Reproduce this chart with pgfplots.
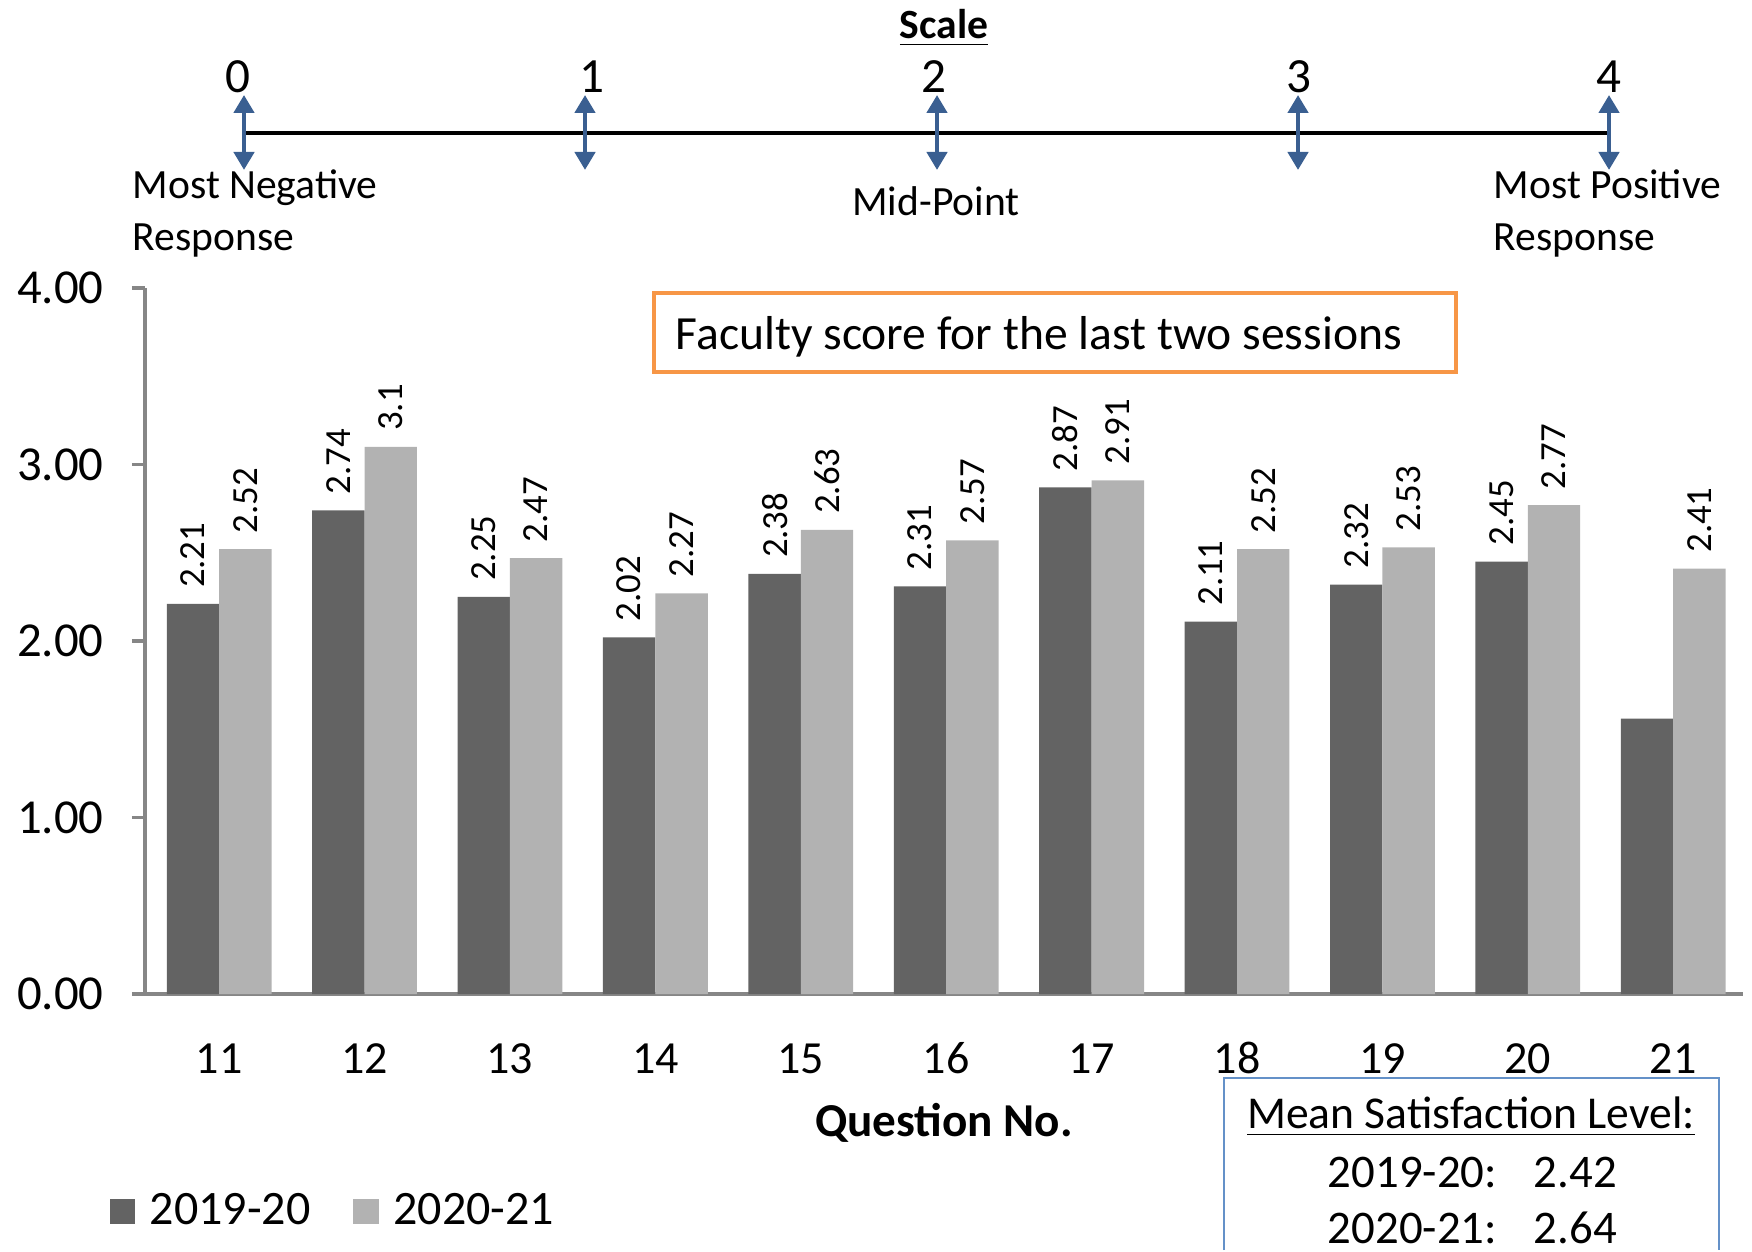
\documentclass[border=0pt]{standalone}
\usepackage{pgfplots}
\pgfplotsset{compat=1.18}
\usepackage{fontspec}
\setmainfont{Carlito}
\usetikzlibrary{arrows.meta}
\definecolor{darkbar}{RGB}{99,99,99}
\definecolor{lightbar}{RGB}{178,178,178}
\definecolor{axisgray}{RGB}{134,134,134}
\definecolor{arrowblue}{RGB}{58,95,145}
\definecolor{boxorange}{RGB}{247,150,70}
\definecolor{boxblue}{RGB}{100,145,200}
\newcommand{\fs}[1]{\fontsize{#1}{#1}\selectfont}
\begin{document}
\begin{tikzpicture}
\begin{scope}[x=0.25pt,y=0.25pt]
\useasboundingbox (0,0) rectangle (1752,1248);
% ---- scale at top ----
\node[inner sep=0pt,font=\bfseries\fs{10.4}] at (944,1220) {\underline{Scale}};
\draw[line width=1.1pt,black] (244,1115) -- (1609,1115);
\foreach \xx/\lab/\lx in {244/0/238,585/1/592,937/2/934,1298/3/1299,1609/4/1609}{
  \draw[arrowblue,line width=1.1pt,{Triangle[length=4.5pt,width=5pt]}-{Triangle[length=4.5pt,width=5pt]}] (\xx,1153) -- (\xx,1078);
  \node[inner sep=0pt,anchor=base,font=\fs{12.3}] at (\lx,1155) {\lab};
}
\node[inner sep=0pt,anchor=base west,font=\fs{10.4}] at (132,1049) {Most Negative};
\node[inner sep=0pt,anchor=base west,font=\fs{10.4}] at (132,997) {Response};
\node[inner sep=0pt,anchor=base,font=\fs{10.4}] at (936,1032) {Mid-Point};
\node[inner sep=0pt,anchor=base west,font=\fs{10.4}] at (1493,1049) {Most Positive};
\node[inner sep=0pt,anchor=base west,font=\fs{10.4}] at (1493,997) {Response};
\end{scope}
% ---- chart ----
\begin{axis}[
  at={(36.25pt,63.5pt)}, anchor=south west,
  scale only axis, width=399.5pt, height=176.5pt,
  xmin=10.49, xmax=21.48, ymin=0, ymax=4,
  separate axis lines,
  axis x line*=bottom, axis y line*=left,
  axis line style={draw=axisgray,line width=0.85pt,-},
  every outer x axis line/.append style={-},
  every outer y axis line/.append style={-},
  every inner x axis line/.append style={-},
  every inner y axis line/.append style={-},
  xtick={11,12,13,14,15,16,17,18,19,20,21},
  xtick style={draw=none},
  xticklabel style={font=\fs{11.5},anchor=base,yshift=-16.65pt},
  ytick={0,1,2,3,4},
  tick align=outside,
  major tick length=3.3pt,
  ytick style={draw=axisgray,line width=0.85pt},
  yticklabel style={font=\fs{12.2},xshift=-3.5pt,/pgf/number format/.cd,fixed,fixed zerofill,precision=2},
  /pgf/number format/assume math mode=true,
  xlabel={Question No.},
  xlabel style={font=\bfseries\fs{11.8},at={(axis description cs:0.5,0)},anchor=center,yshift=-32.25pt},
  ybar=0pt,
  bar width=13.1pt,
  visualization depends on={rawy \as \rawy},
  nodes near coords={\ifdim\rawy pt>1.6pt\relax\pgfmathprintnumber{\rawy}\fi},
  every node near coord/.append style={rotate=90,anchor=west,font=\fs{9.2},inner sep=0pt,outer sep=4pt},
  legend style={at={(-0.0225,-0.308)},anchor=west,draw=none,fill=none,inner sep=0pt,
    legend columns=2,font=\fs{12},nodes={inner sep=0pt},
    /tikz/every odd column/.append style={column sep=3.75pt},
    /tikz/every even column/.append style={column sep=10.75pt}},
  legend image code/.code={\fill[#1] (0pt,-3.1pt) rectangle (6.25pt,3.1pt);},
]
\addplot[fill=darkbar,draw=none] coordinates {
  (11,2.21) (12,2.74) (13,2.25) (14,2.02) (15,2.38) (16,2.31) (17,2.87) (18,2.11) (19,2.32) (20,2.45) (21,1.56)};
\addlegendentry{2019-20}
\addplot[fill=lightbar,draw=none] coordinates {
  (11,2.52) (12,3.1) (13,2.47) (14,2.27) (15,2.63) (16,2.57) (17,2.91) (18,2.52) (19,2.53) (20,2.77) (21,2.41)};
\addlegendentry{2020-21}
\end{axis}
% ---- annotation boxes ----
\begin{scope}[x=0.25pt,y=0.25pt]
\draw[boxorange,line width=0.85pt] (654,876) rectangle (1456,955);
\node[inner sep=0pt,anchor=west,font=\fs{11.9}] at (675,911) {Faculty score for the last two sessions};
\draw[boxblue,line width=0.6pt] (1224,-2) -- (1224,170) -- (1719,170) -- (1719,-2);
\node[inner sep=0pt,font=\fs{11.4}] at (1471,131) {\underline{Mean Satisfaction Level:}};
\node[inner sep=0pt,anchor=west,font=\fs{11.7}] at (1327,76) {2019-20:};
\node[inner sep=0pt,anchor=west,font=\fs{11.7}] at (1533,76) {2.42};
\node[inner sep=0pt,anchor=west,font=\fs{11.7}] at (1327,20) {2020-21:};
\node[inner sep=0pt,anchor=west,font=\fs{11.7}] at (1533,20) {2.64};
\end{scope}
\end{tikzpicture}
\end{document}
